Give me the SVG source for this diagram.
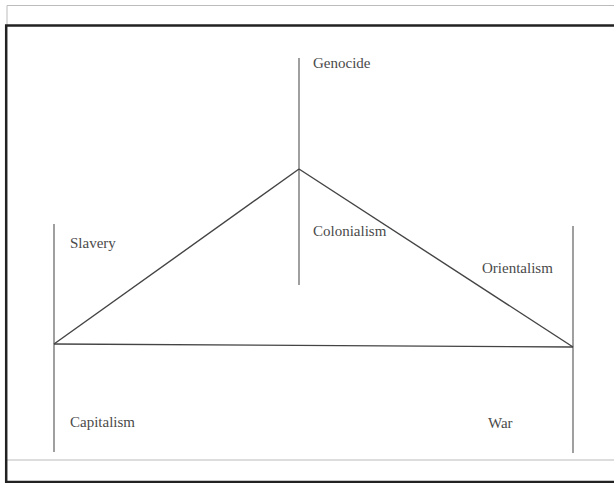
<svg xmlns="http://www.w3.org/2000/svg" width="614" height="483" viewBox="0 0 614 483">
<style>
.frame{fill:none;stroke:#222;stroke-width:2.5}
.thin{fill:none;stroke:#bbb;stroke-width:1}
.axis{stroke:#888;stroke-width:1.6;fill:none}
.edge{stroke:#444;stroke-width:1.4;fill:none}
.lbl{font-family:"Liberation Serif","Times New Roman",serif;font-size:15px;fill:#4a4a4a}
</style>
<rect x="0" y="0" width="614" height="483" fill="#fff"/>
<path class="thin" d="M7,25 V5.5 H614"/>
<path class="thin" d="M7,460 H614"/>
<path class="frame" d="M614,25.5 H6.2 V482 H614"/>
<g id="connectors">
<line class="axis" x1="54" y1="224" x2="54" y2="452"/>
<line class="axis" x1="573" y1="226" x2="573" y2="453"/>
<line class="axis" x1="299" y1="58" x2="299" y2="285"/>
<line class="edge" x1="54" y1="344" x2="299" y2="169"/>
<line class="edge" x1="299" y1="169" x2="573" y2="347"/>
<line class="edge" x1="54" y1="344" x2="573" y2="347"/>
</g>
<g id="genocide"><text class="lbl" x="313" y="68">Genocide</text></g>
<g id="slavery"><text class="lbl" x="70" y="248">Slavery</text></g>
<g id="colonialism"><text class="lbl" x="313" y="236">Colonialism</text></g>
<g id="orientalism"><text class="lbl" x="482" y="273">Orientalism</text></g>
<g id="capitalism"><text class="lbl" x="70" y="427">Capitalism</text></g>
<g id="war"><text class="lbl" x="488" y="428">War</text></g>
</svg>
